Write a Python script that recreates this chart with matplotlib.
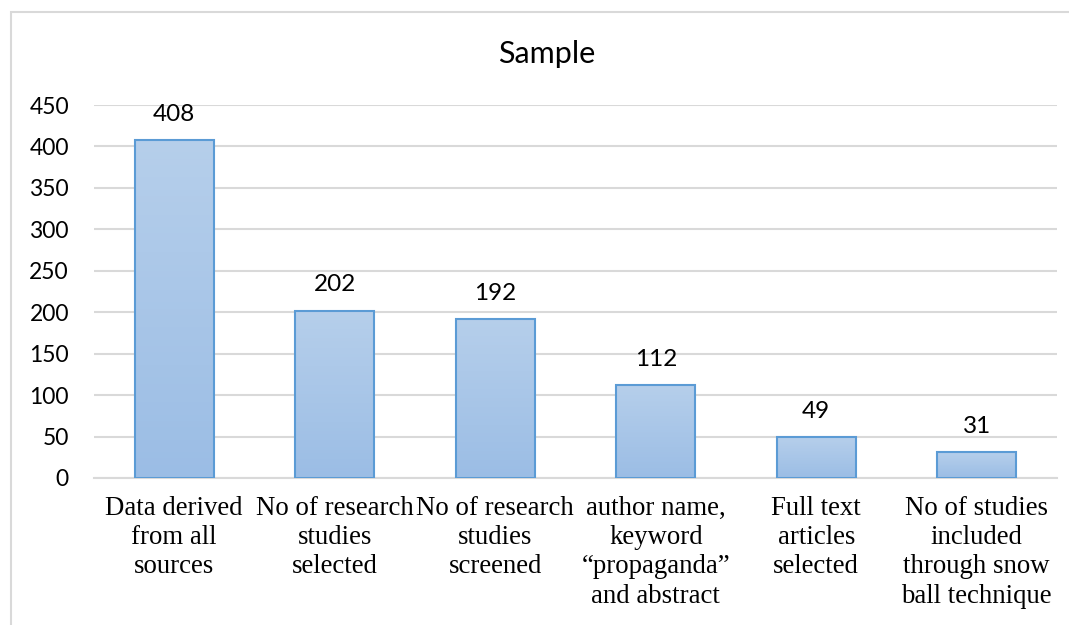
import matplotlib.pyplot as plt
import matplotlib.patches as mpatches
import numpy as np

categories = [
    "Data derived\nfrom all\nsources",
    "No of research\nstudies\nselected",
    "No of research\nstudies\nscreened",
    "author name,\nkeyword\n\u201cpropaganda\u201d\nand abstract",
    "Full text\narticles\nselected",
    "No of studies\nincluded\nthrough snow\nball technique",
]
values = [408, 202, 192, 112, 49, 31]
yticks = [0, 50, 100, 150, 200, 250, 300, 350, 400, 450]

sans = ["Lato", "DejaVu Sans"]
serif = ["Liberation Serif", "DejaVu Serif"]

fig = plt.figure(figsize=(10.69, 6.25), dpi=100)
ax = fig.add_axes([0.0879, 0.2352, 0.9009, 0.5968])

x = np.arange(len(values))
bars = ax.bar(x, values, width=0.49, color="none", edgecolor="#5B9BD5",
              linewidth=1.5, zorder=3)

# vertical gradient inside each bar (lighter at top)
grad = np.linspace(0, 1, 256).reshape(-1, 1)
cmap = plt.matplotlib.colors.LinearSegmentedColormap.from_list(
    "g", ["#9BBDE5", "#B6CFEB"])
for b in bars:
    x0, w, h = b.get_x(), b.get_width(), b.get_height()
    im = ax.imshow(grad, cmap=cmap, aspect="auto", origin="lower",
                   extent=[x0, x0 + w, 0, h], zorder=2)
    im.set_clip_path(b)

for xi, v in zip(x, values):
    ax.annotate(str(v), (xi, v), xytext=(0, 11), textcoords="offset points",
                ha="center", va="bottom", fontsize=17.5, family=sans)

ax.set_xlim(-0.5, len(values) - 0.5)
ax.set_ylim(0, 450)
ax.set_yticks(yticks)
ax.set_yticklabels([str(t) for t in yticks], fontsize=16.5, family=sans)
ax.set_xticks(x)
ax.set_xticklabels(categories, fontsize=19.3, family=serif, linespacing=1.22)
ax.tick_params(axis="both", length=0)
ax.tick_params(axis="x", pad=13)
ax.tick_params(axis="y", pad=18)

ax.grid(axis="y", color="#D9D9D9", linewidth=1.5, zorder=0)
for s in ["top", "right", "left"]:
    ax.spines[s].set_visible(False)
ax.spines["bottom"].set_color("#D9D9D9")
ax.spines["bottom"].set_linewidth(1.5)

fig.text(0.511, 0.913, "Sample", ha="center", va="center",
         fontsize=22, family=sans)

# chart area frame
frame = mpatches.Rectangle((11 / 1069, -0.1), 1.2, 0.1 + (1 - 12 / 625),
                           transform=fig.transFigure, fill=False,
                           edgecolor="#D9D9D9", linewidth=1.5)
fig.patches.append(frame)

fig.savefig("out.png", dpi=100)
